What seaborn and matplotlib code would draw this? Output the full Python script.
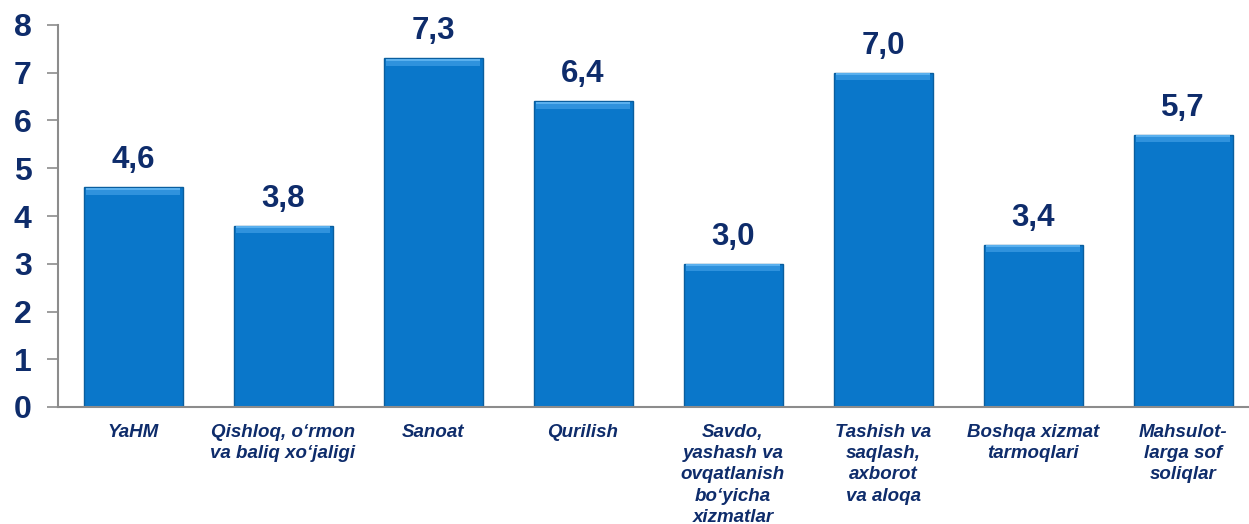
import matplotlib
matplotlib.use("Agg")
import matplotlib.pyplot as plt
import seaborn as sns
import pandas as pd

categories = [
    "YaHM",
    "Qishloq, o\u2018rmon\nva baliq xo\u2018jaligi",
    "Sanoat",
    "Qurilish",
    "Savdo,\nyashash va\novqatlanish\nbo\u2018yicha\nxizmatlar",
    "Tashish va\nsaqlash,\naxborot\nva aloqa",
    "Boshqa xizmat\ntarmoqlari",
    "Mahsulot-\nlarga sof\nsoliqlar",
]
values = [4.6, 3.8, 7.3, 6.4, 3.0, 7.0, 3.4, 5.7]
value_labels = ["4,6", "3,8", "7,3", "6,4", "3,0", "7,0", "3,4", "5,7"]
yticks = [0, 1, 2, 3, 4, 5, 6, 7, 8]

sns.set_theme(style="white")
plt.rcParams["font.family"] = ["Liberation Sans", "DejaVu Sans"]

navy = "#0E2C6B"
bar_color = "#0A77CA"

df = pd.DataFrame({"cat": categories, "val": values})
fig = plt.figure(figsize=(12.49, 5.24), dpi=100)
ax = fig.add_axes([58 / 1249, 117 / 524, 1200 / 1249, 382 / 524])

sns.barplot(data=df, x="cat", y="val", color=bar_color, width=0.66,
            saturation=1, edgecolor="#0A5E9E", linewidth=1.0, ax=ax)

# bevel-like highlight on top of bars
for p in ax.patches:
    x0 = p.get_x()
    w = p.get_width()
    h = p.get_height()
    ax.fill_between([x0 + 0.015, x0 + w - 0.015], h - 0.16, h - 0.01,
                    color="#2F92DD", zorder=p.get_zorder() + 0.1, linewidth=0)
    ax.fill_between([x0 + 0.015, x0 + w - 0.015], h - 0.05, h - 0.01,
                    color="#5AB0EE", zorder=p.get_zorder() + 0.2, linewidth=0)

for i, (v, lab) in enumerate(zip(values, value_labels)):
    ax.text(i, v + 0.25, lab, ha="center", va="bottom", fontsize=22.5,
            fontweight="bold", color=navy)

ax.set_xlim(-0.5, len(categories) - 0.5)
ax.set_ylim(0, 8)
ax.set_yticks(yticks)
ax.set_yticklabels([str(t) for t in yticks], fontsize=23, fontweight="bold", color=navy)
ax.set_xticks(range(len(categories)))
ax.set_xticklabels(categories, fontsize=13.5, fontweight="bold", style="italic",
                   color=navy, linespacing=1.33, va="top")
ax.tick_params(axis="x", length=0, pad=12)
ax.tick_params(axis="y", length=8, width=1.2, color="#8C8C8C", direction="out", pad=11, left=True)
ax.set_xlabel("")
ax.set_ylabel("")
for s in ["top", "right"]:
    ax.spines[s].set_visible(False)
for s in ["left", "bottom"]:
    ax.spines[s].set_color("#8C8C8C")
    ax.spines[s].set_linewidth(1.5)
ax.grid(False)

fig.savefig("out.png", dpi=100)
